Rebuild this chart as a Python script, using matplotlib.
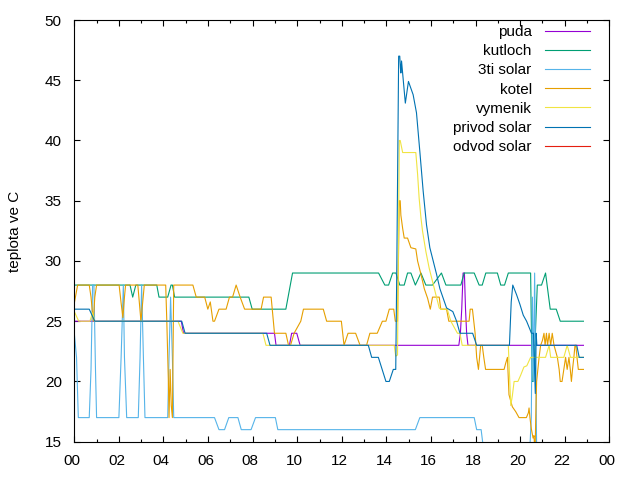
import matplotlib; matplotlib.use('Agg')
import matplotlib.pyplot as plt
from matplotlib.ticker import MultipleLocator, FuncFormatter
from matplotlib.transforms import ScaledTranslation

plt.rcParams['font.family'] = ['Liberation Sans', 'DejaVu Sans']

# hodiny od pulnoci, teplota ve C
puda_t = [0, 4.8, 4.9, 8.98, 9.05, 9.65, 9.75, 9.98, 10.13, 17.25, 17.32, 17.38, 17.44, 17.5, 17.55, 17.6, 17.66, 22.84]
puda_v = [25, 25, 24, 24, 23, 23, 24, 24, 23, 23, 24, 26, 29, 29, 26, 24, 23, 23]

kutloch_t = [0, 2.50, 2.62, 2.76, 3.7, 3.8, 4.19, 4.34, 4.4, 4.5, 7.83, 7.98, 9.49, 9.79, 13.65, 13.93, 14.1,
             14.28, 14.43, 14.6, 14.8, 14.95, 15.1, 15.3, 15.55, 15.77, 16.07, 16.47, 16.67, 17.34, 17.49, 17.94,
             18.16, 18.3, 18.46, 18.98, 19.13, 19.3, 19.47, 20.47, 20.54, 20.6, 20.77, 20.96, 21.14, 21.35, 21.62,
             21.8, 22.84]
kutloch_v = [28, 28, 27, 28, 28, 27, 27, 28, 28, 27, 27, 26, 26, 29, 29, 28, 28,
             29, 29, 28, 28, 29, 29, 28, 29, 28, 28, 29, 28, 28, 29, 29,
             28, 28, 29, 29, 28, 28, 29, 29, 20, 20, 28, 28, 29, 26, 26,
             25, 25]

solar3_t = [0, 0.1, 0.18, 0.67, 0.75, 0.82, 0.88, 0.95, 1.0, 2.0, 2.1, 2.2, 2.25, 2.35, 2.87, 2.95, 3.02, 3.1,
            3.17, 4.19, 4.25, 4.32, 4.4, 4.46, 6.29, 6.49, 6.74, 6.93, 7.34, 7.49, 7.93, 8.13, 9.02, 9.13, 15.3,
            15.5, 17.94, 18.05, 18.25, 18.45, 20.4, 20.5, 20.55, 20.6, 20.65, 20.75, 22.84]
solar3_v = [24, 22, 17, 17, 21, 28, 28, 21, 17, 17, 22, 28, 22, 17, 17, 22, 28, 22,
            17, 17, 22, 27, 22, 17, 17, 16, 16, 17, 17, 16, 16, 17, 17, 16, 16,
            17, 17, 16, 16, 13, 13, 17, 27, 20, 29, 13, 13]

kotel_t = [0, 0.15, 0.67, 0.75, 0.85, 0.92, 1.0, 2.01, 2.1, 2.18, 2.25, 2.3, 2.85, 2.99, 3.14, 4.1, 4.15, 4.22,
           4.25, 4.3, 4.35, 4.4, 4.46, 5.32, 5.47, 5.85, 5.99, 6.1, 6.22, 6.29, 6.49, 6.81, 6.96, 7.1, 7.26, 7.44,
           7.64, 8.38, 8.49, 8.83, 8.98, 9.49, 9.61, 9.7, 9.86, 10.16, 10.28, 11.17, 11.32, 11.98, 12.1, 12.28,
           12.62, 12.82, 13.11, 13.26, 13.59, 13.82, 13.98, 14.13, 14.33, 14.4, 14.5, 14.58, 14.62, 14.65, 14.73,
           14.8, 14.95, 15.1, 15.32, 15.4, 15.55, 15.7, 15.85, 15.97, 16.07, 16.37, 16.44, 16.7, 16.8, 17.71,
           17.76, 17.86, 17.98, 18.05, 18.13, 18.18, 18.23, 18.3, 18.37, 18.45, 19.28, 19.35, 19.43, 19.5, 19.65,
           19.8, 19.95, 20.28, 20.37, 20.4, 20.44, 20.5, 20.58, 20.62, 20.67, 20.7, 20.74, 20.85, 20.92, 21.0,
           21.07, 21.12, 21.18, 21.23, 21.3, 21.37, 21.44, 21.52, 21.67, 21.75, 21.8, 21.88, 21.96, 22.04, 22.11,
           22.19, 22.25, 22.3, 22.35, 22.41, 22.46, 22.5, 22.55, 22.61, 22.84]
kotel_v = [26.5, 28, 28, 27, 25, 27, 28, 28, 26.5, 25.3, 27, 28, 28, 25, 28, 28, 25, 20,
           17, 21, 18, 17, 28, 28, 27, 27, 26, 26.6, 25, 25, 26, 26, 27, 27, 28, 27,
           26, 26, 27, 27, 24, 24, 23, 23, 24, 25, 26, 26, 25, 25, 23, 24,
           24, 23, 23, 24, 24, 25, 25, 26, 26, 25, 25, 35, 35, 33.8, 32.7,
           31.9, 31.9, 31.1, 31, 30, 28.9, 27.7, 26.9, 26, 27, 27, 26, 26, 25, 25,
           26, 26, 24, 22, 21, 22, 23, 23, 22, 21, 21, 21.5, 22, 18.9, 17.9,
           17.5, 17, 17, 17.4, 17.8, 17, 16.1, 15.3, 15.5, 14, 17, 20, 22, 23, 23.4,
           24, 23, 24, 23, 24, 23, 24, 23, 22, 21, 20, 20, 21, 22, 21,
           22, 21, 20, 21, 22, 23, 23, 22, 21, 21]

vymenik_t = [0, 0.2, 0.7, 0.82, 0.92, 4.65, 4.87, 8.46, 8.6, 14.35, 14.42, 14.5, 14.58, 14.62, 14.73, 15.32, 15.4,
             15.47, 15.55, 15.62, 15.77, 15.92, 16.07, 16.22, 16.37, 16.44, 16.73, 16.89, 17.19, 17.3, 17.4, 19.47,
             19.58, 19.65, 19.73, 19.9, 20.02, 20.17, 20.3, 20.47, 21.14, 21.3, 21.37, 21.96, 22.11, 22.26, 22.84]
vymenik_v = [25.8, 25, 25, 25.7, 25, 25, 24, 24, 23, 23, 22.1, 22.2, 40, 40, 39, 39, 37.2,
             35.2, 33.6, 32.5, 30.8, 29.4, 28.3, 27.2, 26.1, 26, 26, 25, 24, 24, 23, 23,
             18, 18.8, 20, 20, 20.5, 21.2, 21.3, 22, 22, 23, 22, 22, 23, 22, 22]

privod_t = [0, 0.67, 0.92, 4.82, 4.97, 8.63, 8.78, 13.19, 13.34, 13.64, 13.98, 14.13, 14.31, 14.42, 14.47, 14.55,
            14.6, 14.63, 14.65, 14.68, 14.85, 14.99, 15.2, 15.35, 15.5, 15.65, 15.8, 15.95, 16.1, 16.25, 16.4,
            16.55, 16.7, 16.98, 17.15, 17.3, 17.87, 18.05, 19.52, 19.6, 19.67, 19.84, 19.99, 20.14, 20.29, 20.51,
            20.6, 20.68, 20.72, 20.75, 22.54, 22.65, 22.84]
privod_v = [26, 26, 25, 25, 24, 24, 23, 23, 22, 22, 20, 20, 21, 21, 30, 47,
            47, 46, 45.6, 46.6, 43.1, 44.9, 43.8, 42.3, 39.1, 35.8, 33.0, 31.1, 30, 28.9, 27.7,
            26.9, 26.1, 25.8, 25, 24, 24, 23, 23, 26.6, 28, 27.2, 26.4, 25.5, 25, 24,
            24, 19, 24, 23, 23, 22, 22]

odvod_t = []
odvod_v = []

series = [
    ('puda', puda_t, puda_v, '#9400d3'),
    ('kutloch', kutloch_t, kutloch_v, '#009e73'),
    ('3ti solar', solar3_t, solar3_v, '#56b4e9'),
    ('kotel', kotel_t, kotel_v, '#e69f00'),
    ('vymenik', vymenik_t, vymenik_v, '#f0e442'),
    ('privod solar', privod_t, privod_v, '#0072b2'),
    ('odvod solar', odvod_t, odvod_v, '#e51e10'),
]

FS = 11
fig = plt.figure(figsize=(6.4, 4.8), dpi=100)
ax = fig.add_axes([74.3/640, 1-441.7/480, (609.3-74.3)/640, (441.7-20)/480])
for name, t, v, c in series:
    ax.plot(t, v, color=c, lw=0.8, label=name)

ax.set_xlim(0, 24); ax.set_ylim(15, 50)
ax.xaxis.set_major_locator(MultipleLocator(2))
ax.xaxis.set_minor_locator(MultipleLocator(1))
ax.yaxis.set_major_locator(MultipleLocator(5))
ax.xaxis.set_major_formatter(FuncFormatter(lambda x, p: '%02d' % (int(round(x)) % 24)))
ax.tick_params(which='both', direction='in', top=True, right=True, labelsize=FS, width=0.8, color='black')
ax.tick_params(which='major', length=4.5, pad=9)
ax.tick_params(which='minor', length=2.2)
ax.tick_params(axis='y', which='minor', left=False, right=False)
for s in ax.spines.values():
    s.set_linewidth(0.8)
# gnuplot puts the hour labels a touch left of the tick
shift = ScaledTranslation(-2.5/100, 0, fig.dpi_scale_trans)
for lb in ax.get_xticklabels():
    lb.set_transform(lb.get_transform() + shift)

fig.text(15/640, 0.519, 'teplota ve C', rotation=90, ha='center', va='center', fontsize=FS)

ax.legend(loc='upper right', bbox_to_anchor=(590/640, 1-25/480), bbox_transform=fig.transFigure,
          frameon=False, markerfirst=False, handlelength=2.95, handletextpad=0.87,
          labelspacing=0.34, borderpad=0, borderaxespad=0, fontsize=FS)

fig.savefig('out.png', dpi=100)
